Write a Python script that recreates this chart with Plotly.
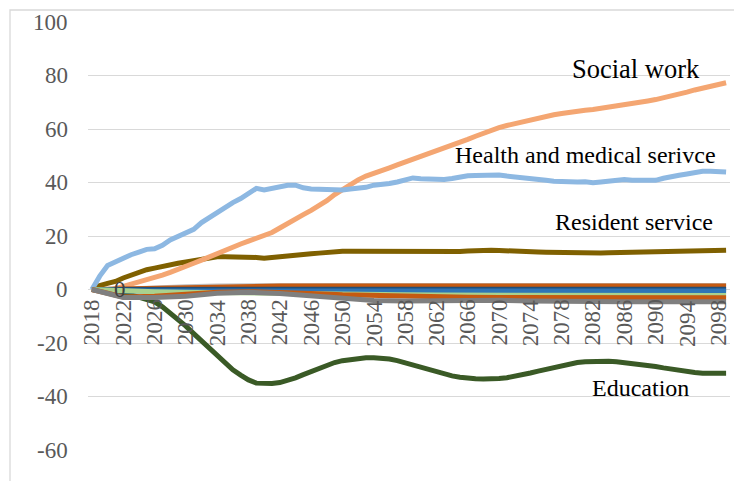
import plotly.graph_objects as go

# Annual projection, 2018-2099 (percentage change relative to 2018)
years = list(range(2018, 2100))

health_medical = [
    0, 5, 9, 10.5, 11.5, 13, 14, 15, 15.2, 16.5,
    18.5, 19.8, 21, 22.5, 25, 27, 28.5, 30.5, 32.5, 34,
    36, 37.8, 37.2, 37.8, 38.6, 39, 39, 38, 37.6, 37.4,
    37.3, 37.1, 37.2, 37.6, 37.8, 38.2, 39, 39.2, 39.6, 40.2,
    41, 41.7, 41.4, 41.3, 41.4, 41.1, 41.5, 42.1, 42.5, 42.6,
    42.7, 43, 42.8, 42.4, 42, 41.7, 41.4, 41.1, 40.8, 40.5,
    40.3, 40.1, 40.2, 40.3, 39.9, 40.2, 40.5, 41, 41.1, 40.8,
    40.8, 40.7, 40.8, 41.6, 42.3, 42.7, 43.2, 43.7, 44.2, 44.2,
    44.1, 43.9,
]

social_work = [
    0, -0.5, -0.5, 0.3, 1.2, 2, 2.8, 3.6, 4.4, 5.4,
    6.4, 7.4, 8.5, 9.8, 11, 12.3, 13.4, 14.6, 15.8, 17,
    18.1, 19.2, 20.2, 21.3, 23, 24.8, 26.5, 28, 29.6, 31.2,
    33.2, 35.5, 37.5, 39.2, 41, 42.4, 43.6, 44.5, 45.5, 46.6,
    47.6, 48.7, 49.8, 50.8, 51.8, 52.7, 53.8, 55, 56.1, 57.3,
    58.5, 59.6, 60.5, 61.3, 62, 62.8, 63.5, 64.1, 64.8, 65.3,
    65.8, 66.3, 66.6, 67, 67.3, 67.7, 68.1, 68.6, 69, 69.5,
    70, 70.5, 71, 71.6, 72.3, 73, 73.8, 74.6, 75.3, 76,
    76.7, 77.3,
]

resident_service = [
    0, 1.5, 2.3, 3, 4.3, 5.5, 6.5, 7.4, 8, 8.7,
    9.3, 9.8, 10.3, 10.8, 11.3, 11.9, 12.2, 12.2, 12.2, 12.2,
    12.1, 12, 11.7, 12, 12.6, 12.8, 13, 13.2, 13.4, 13.6,
    13.9, 14.2, 14.3, 14.3, 14.3, 14.2, 14.1, 14, 13.9, 13.9,
    13.9, 13.9, 13.9, 14, 14.1, 14, 14, 14.2, 14.4, 14.6,
    14.7, 14.7, 14.6, 14.4, 14.3, 14.2, 14.1, 14, 13.9, 13.8,
    13.7, 13.6, 13.5, 13.5, 13.5, 13.6, 13.7, 13.8, 13.8, 13.9,
    13.9, 14, 14, 14.1, 14.2, 14.3, 14.4, 14.5, 14.6, 14.7,
    14.7, 14.7,
]

education = [
    0, -0.3, -0.6, -1, -1.5, -2, -2.8, -3.6, -4.6, -6.5,
    -8.8, -11.2, -13.7, -16.5, -19.3, -22.2, -25, -27.6, -30, -32,
    -33.8, -35, -35.2, -35.1, -34.8, -34, -33, -31.8, -30.6, -29.3,
    -28.2, -27.3, -26.6, -26.1, -25.7, -25.5, -25.5, -25.7, -26, -26.6,
    -27.4, -28.3, -29.2, -30.1, -30.9, -31.6, -32.3, -32.8, -33.2, -33.4,
    -33.5, -33.5, -33.3, -33, -32.5, -31.9, -31.2, -30.5, -29.8, -29.1,
    -28.4, -27.8, -27.3, -27, -26.8, -26.7, -26.8, -27, -27.3, -27.7,
    -28, -28.4, -28.8, -29.3, -29.8, -30.3, -30.7, -31, -31.3, -31.4,
    -31.4, -31.3,
]

# Smaller sectors that stay close to zero, sampled every four years
minor_years = [2018, 2022, 2026, 2030, 2034, 2038, 2042, 2046, 2050, 2054, 2058,
               2062, 2066, 2070, 2074, 2078, 2082, 2086, 2090, 2094, 2098, 2099]
minor_lightgray = [0, 0.5, 1.0, 1.4, 1.7, 1.8, 1.9, 1.9, 1.9, 1.9, 1.9,
                   1.9, 1.9, 1.9, 1.9, 1.9, 1.9, 1.9, 1.9, 1.9, 1.9, 1.9]
minor_orange_hi = [0, 0.2, 0.6, 1.0, 1.2, 1.3, 1.3, 1.3, 1.3, 1.3, 1.3,
                   1.3, 1.3, 1.3, 1.3, 1.3, 1.3, 1.3, 1.3, 1.3, 1.3, 1.3]
minor_navy = [0, 0.1, 0.1, 0.1, 0.1, 0.1, 0.1, 0.1, 0.1, 0.1, 0.1,
              0.1, 0.1, 0.1, 0.1, 0.1, 0.1, 0.1, 0.1, 0.1, 0.1, 0.1]
minor_blue = [0, -0.6, -0.6, -0.5, -0.5, -0.5, -0.6, -0.6, -0.6, -0.6, -0.6,
              -0.6, -0.6, -0.6, -0.6, -0.6, -0.6, -0.6, -0.6, -0.6, -0.6, -0.6]
minor_green = [0, -0.5, -0.8, -1.0, -1.2, -1.3, -1.5, -1.7, -1.9, -2.0, -2.0,
               -2.1, -2.1, -2.1, -2.2, -2.2, -2.2, -2.2, -2.2, -2.2, -2.2, -2.2]
minor_orange_lo = [0, -2.8, -2.5, -1.8, -1.0, -0.8, -1.0, -1.5, -2.0, -2.3, -2.6,
                   -2.8, -2.9, -3.0, -3.0, -3.1, -3.1, -3.1, -3.1, -3.1, -3.1, -3.1]
minor_gray = [0, -3.0, -3.0, -2.5, -1.4, -1.0, -1.5, -2.5, -3.5, -4.1, -4.3,
              -4.2, -4.0, -4.0, -4.3, -4.5, -4.6, -4.6, -4.6, -4.6, -4.6, -4.6]

tick_years = list(range(2018, 2099, 4))
tick_text = [str(y) for y in tick_years]
y_ticks = [-60, -40, -20, 0, 20, 40, 60, 80, 100]
y_tick_text = [str(v) for v in y_ticks]  # plain hyphen-minus

FONT = "Liberation Serif"
TICK_COLOR = "#595959"
TICK_SIZE = 23
LW = 5

fig = go.Figure()

main_series = [
    (education, "#3A5A26"),
    (resident_service, "#7F6000"),
    (social_work, "#F4A672"),
    (health_medical, "#8DB8E2"),
]
for vals, col in main_series:
    fig.add_trace(go.Scatter(x=years, y=vals, mode="lines",
                             line=dict(color=col, width=LW), hoverinfo="skip"))

minor_series = [
    (minor_lightgray, "#BFBFBF", 3),
    (minor_orange_hi, "#C55A11", LW),
    (minor_navy, "#1F4E79", LW),
    (minor_blue, "#2E75B6", LW),
    (minor_green, "#A9D18E", LW),
    (minor_orange_lo, "#C55A11", LW),
    (minor_gray, "#7F7F7F", LW),
]
for vals, col, w in minor_series:
    fig.add_trace(go.Scatter(x=minor_years, y=vals, mode="lines",
                             line=dict(color=col, width=w), hoverinfo="skip"))

# sector labels
labels = [
    ("Social work", 2087.5, 82.4, 26.5),
    ("Health and medical serivce", 2081.0, 50.3, 24),
    ("Resident service", 2087.3, 25.4, 24),
    ("Education", 2088.1, -37.0, 24),
]
for txt, lx, ly, sz in labels:
    fig.add_annotation(x=lx, y=ly, text=txt, showarrow=False,
                       font=dict(family=FONT, size=sz, color="#000000"),
                       xanchor="center", yanchor="middle")

# stray value label near the start of the series
fig.add_annotation(x=2021.6, y=0, text="0", showarrow=False,
                   font=dict(family=FONT, size=TICK_SIZE, color="#404040"),
                   xanchor="center", yanchor="middle")

# value-axis labels, set in serif type left of the plot area
for v, t in zip(y_ticks, y_tick_text):
    fig.add_annotation(x=0, xref="paper", y=v, yref="y", text=t,
                       showarrow=False, xanchor="right", yanchor="middle",
                       xshift=-18,
                       font=dict(family=FONT, size=TICK_SIZE, color=TICK_COLOR))

# year labels, rotated, hanging just under the zero line
for yr, t in zip(tick_years, tick_text):
    fig.add_annotation(x=yr, y=0, text=t, textangle=-90, showarrow=False,
                       xanchor="center", yanchor="top", yshift=-8,
                       font=dict(family=FONT, size=TICK_SIZE, color=TICK_COLOR))

# chart-area frame
fig.add_shape(type="rect", xref="paper", yref="paper",
              x0=(10 - 88) / 642, x1=(760 - 88) / 642,
              y0=(450 - 500) / 428, y1=(450 - 10) / 428,
              line=dict(color="#D9D9D9", width=1.3), fillcolor="rgba(0,0,0,0)",
              layer="below")

fig.update_layout(
    width=734, height=481,
    margin=dict(l=88, r=4, t=22, b=31),
    paper_bgcolor="white", plot_bgcolor="white",
    showlegend=False,
    xaxis=dict(
        range=[2017.5, 2099.5], showticklabels=False,
        showgrid=False, zeroline=False, showline=False, ticks="",
    ),
    yaxis=dict(
        range=[-60, 100], tickmode="array", tickvals=y_ticks,
        showticklabels=False,
        showgrid=True, gridcolor="#D9D9D9", gridwidth=1.3,
        zeroline=False, showline=False, ticks="",
    ),
)

fig.write_html("out.html")
